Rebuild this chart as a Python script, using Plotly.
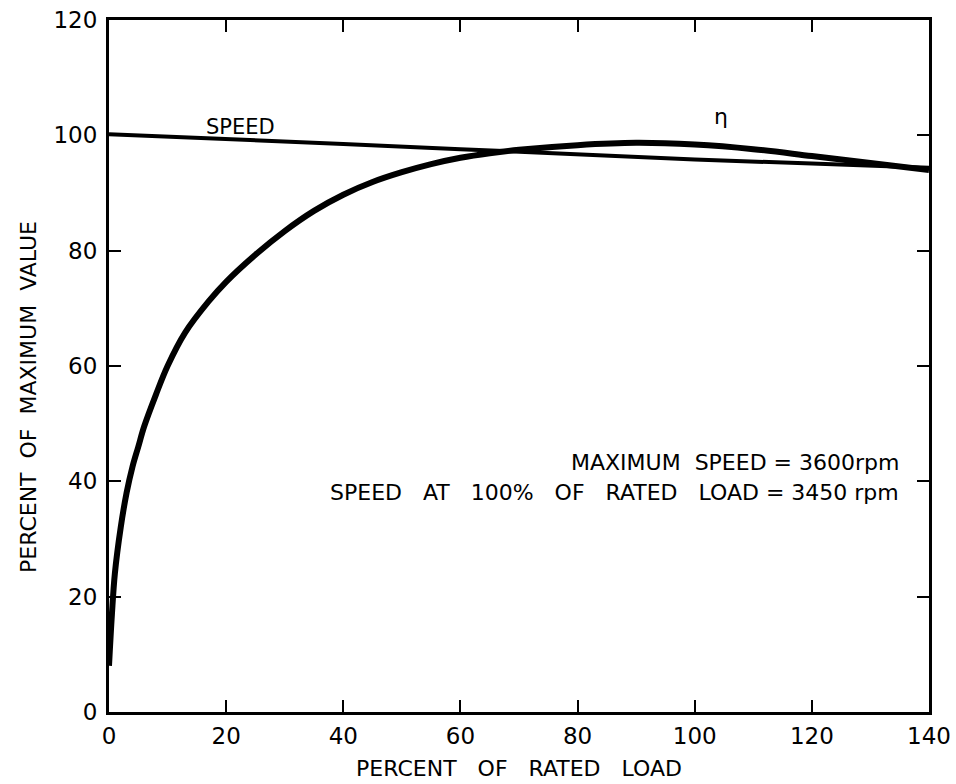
import plotly.graph_objects as go

# Percent of rated load (x) for each curve
load_speed = [0, 20, 40, 60, 80, 100, 120, 140]
speed_pct = [100.2, 99.4, 98.5, 97.6, 96.7, 95.8, 95.1, 94.4]

load_eff = [0, 0.5, 1, 2, 3, 4, 5, 6, 8, 10, 13, 17, 20, 25, 30, 35, 40, 45,
            50, 55, 60, 65, 70, 80, 90, 100, 110, 120, 130, 140]
eff_pct = [8, 17, 24, 32, 38, 42.5, 46, 49.5, 55, 60, 65.8, 71.2, 74.6, 79.3, 83.4,
           86.9, 89.7, 91.9, 93.6, 95.0, 96.1, 96.9, 97.5, 98.3, 98.7, 98.4,
           97.6, 96.4, 95.2, 94.0]

x_ticks = [0, 20, 40, 60, 80, 100, 120, 140]
y_ticks = [0, 20, 40, 60, 80, 100, 120]

FONT = "DejaVu Sans"

fig = go.Figure()
fig.add_trace(go.Scatter(x=load_speed, y=speed_pct, mode="lines",
                         line=dict(color="black", width=4), showlegend=False))
fig.add_trace(go.Scatter(x=load_eff, y=eff_pct, mode="lines",
                         line=dict(color="black", width=6, shape="spline", smoothing=1.0),
                         showlegend=False))

fig.add_annotation(x=22.4, y=101.4, text="SPEED", showarrow=False,
                   xanchor="center", yanchor="middle",
                   font=dict(family=FONT, size=21, color="black"))
fig.add_annotation(x=104.5, y=103.3, text="η", showarrow=False,
                   xanchor="center", yanchor="middle",
                   font=dict(family=FONT, size=22, color="black"))
fig.add_annotation(x=135.3, y=43.3, text="MAXIMUM  SPEED = 3600rpm", showarrow=False,
                   xanchor="right", yanchor="middle",
                   font=dict(family=FONT, size=22, color="black"))
fig.add_annotation(x=135.3, y=38.1,
                   text="SPEED   AT   100%   OF   RATED   LOAD = 3450 rpm",
                   showarrow=False, xanchor="right", yanchor="middle",
                   font=dict(family=FONT, size=22, color="black"))

# vertical axis title, placed by hand slightly below the plot centre
fig.add_annotation(xref="paper", yref="paper", x=-0.099, y=0.455,
                   text="PERCENT  OF  MAXIMUM  VALUE", textangle=-90,
                   showarrow=False, xanchor="center", yanchor="middle",
                   font=dict(family=FONT, size=22, color="black"))

axis_common = dict(showline=True, linecolor="black", linewidth=3, mirror="ticks",
                   ticks="inside", ticklen=12, tickwidth=2, tickcolor="black",
                   showgrid=False, zeroline=False, automargin=False,
                   tickfont=dict(family=FONT, size=23, color="black"))

fig.update_xaxes(range=[0, 140], tickvals=x_ticks,
                 ticktext=[str(v) for v in x_ticks], ticklabelstandoff=1,
                 title=dict(text="PERCENT   OF   RATED   LOAD", standoff=14,
                            font=dict(family=FONT, size=22, color="black")),
                 **axis_common)
fig.update_yaxes(range=[0, 120], tickvals=y_ticks,
                 ticktext=[str(v) for v in y_ticks], ticklabelstandoff=4,
                 **axis_common)

fig.update_layout(width=956, height=784,
                  margin=dict(l=109, r=27, t=20, b=72),
                  paper_bgcolor="white", plot_bgcolor="white")

fig.write_html("out.html")
